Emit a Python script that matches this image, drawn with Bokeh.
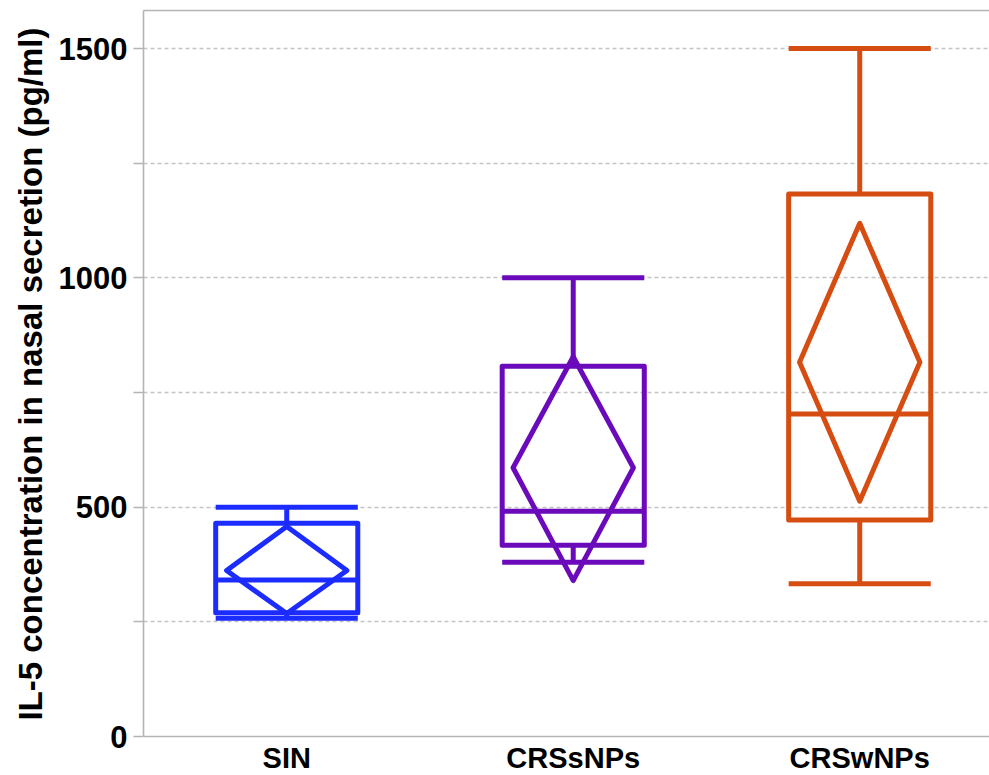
from bokeh.plotting import figure
from bokeh.models import Range1d, FixedTicker, LinearAxis, Title
from bokeh.embed import file_html
from bokeh.resources import INLINE

# ---- data ----
groups = ["SIN", "CRSsNPs", "CRSwNPs"]
whisker_low = [258, 380, 333]
q1 = [270, 417, 472]
median = [341, 491, 703]
q3 = [465, 807, 1183]
whisker_high = [500, 1000, 1500]
mean = [362, 586, 816]
ci_low = [268, 340, 513]
ci_high = [458, 828, 1119]
colors = ["#1c2cff", "#6a0abb", "#d64d12"]

y_ticks = [0, 500, 1000, 1500]
y_minor = [250, 750, 1250]
grid_ticks = [250, 500, 750, 1000, 1250, 1500]
y_label = "IL-5 concentration in nasal secretion (pg/ml)"

# ---- styling constants ----
BOX_HW = 0.248
DIA_HW = 0.21
LW = 5
AXIS_GREY = "#b4b4b4"
FONT = "Liberation Sans"
Y_TOP = 1582.9
Y_BOTTOM = -85.0

xs = [i + 0.5 for i in range(len(groups))]

p = figure(width=989, height=775, x_range=Range1d(0, 2.953), y_range=Range1d(Y_BOTTOM, Y_TOP),
           output_backend="svg", toolbar_location=None,
           min_border_left=143, min_border_top=10, min_border_right=0, min_border_bottom=0)
p.outline_line_color = None
p.background_fill_color = "white"
p.border_fill_color = "white"

# grid
p.xgrid.grid_line_color = None
p.ygrid.ticker = FixedTicker(ticks=grid_ticks)
p.ygrid.grid_line_color = "#c4c4c4"
p.ygrid.grid_line_dash = "4 3"
p.ygrid.grid_line_width = 1.3

# y axis
ya = p.yaxis[0]
ya.ticker = FixedTicker(ticks=y_ticks, minor_ticks=y_minor)
ya.bounds = (0, Y_TOP)
ya.axis_line_color = AXIS_GREY
ya.axis_line_width = 1.6
ya.major_tick_line_color = AXIS_GREY
ya.minor_tick_line_color = AXIS_GREY
ya.major_tick_line_width = 1.6
ya.minor_tick_line_width = 1.6
ya.major_tick_out = 10
ya.major_tick_in = 0
ya.minor_tick_out = 10
ya.minor_tick_in = 0
ya.major_label_text_font = FONT
ya.major_label_text_font_style = "bold"
ya.major_label_text_font_size = "31px"
ya.major_label_text_color = "black"
ya.major_label_standoff = 6

# y axis title (anchored near the top of the frame, like the reference)
ytitle = Title(text=y_label, align="right", offset=17, standoff=14,
               text_font=FONT, text_font_style="bold", text_font_size="33px",
               text_color="black")
p.add_layout(ytitle, "left")

# x axis (drawn at y = 0)
xa = p.xaxis[0]
xa.fixed_location = 0
xa.ticker = FixedTicker(ticks=xs)
xa.major_label_overrides = {x: g for x, g in zip(xs, groups)}
xa.axis_line_color = AXIS_GREY
xa.axis_line_width = 1.6
xa.major_tick_line_color = None
xa.minor_tick_line_color = None
xa.major_tick_out = 0
xa.major_tick_in = 0
xa.major_label_text_font = FONT
xa.major_label_text_font_style = "bold"
xa.major_label_text_font_size = "29px"
xa.major_label_text_color = "black"
xa.major_label_standoff = 5

# top border line
top = LinearAxis(ticker=FixedTicker(ticks=[]), major_label_text_font_size="0px",
                 axis_line_color=AXIS_GREY, axis_line_width=1.6,
                 major_tick_line_color=None, minor_tick_line_color=None,
                 major_tick_out=0, minor_tick_out=0, major_label_standoff=0)
p.add_layout(top, "above")

# boxes
p.quad(left=[x - BOX_HW for x in xs], right=[x + BOX_HW for x in xs], bottom=q1, top=q3,
       fill_color=None, line_color=colors, line_width=LW, line_join="round")
# whiskers
p.segment(x0=xs, x1=xs, y0=q3, y1=whisker_high, line_color=colors, line_width=LW)
p.segment(x0=xs, x1=xs, y0=q1, y1=whisker_low, line_color=colors, line_width=LW)
# caps
p.segment(x0=[x - BOX_HW for x in xs], x1=[x + BOX_HW for x in xs], y0=whisker_high, y1=whisker_high,
          line_color=colors, line_width=LW)
p.segment(x0=[x - BOX_HW for x in xs], x1=[x + BOX_HW for x in xs], y0=whisker_low, y1=whisker_low,
          line_color=colors, line_width=LW)
# medians
p.segment(x0=[x - BOX_HW for x in xs], x1=[x + BOX_HW for x in xs], y0=median, y1=median,
          line_color=colors, line_width=LW)
# mean diamonds
p.patches(xs=[[x, x + DIA_HW, x, x - DIA_HW] for x in xs],
          ys=[[h, m, l, m] for h, m, l in zip(ci_high, mean, ci_low)],
          fill_color=None, line_color=colors, line_width=LW, line_join="round")

open("out.html", "w").write(file_html(p, INLINE))
